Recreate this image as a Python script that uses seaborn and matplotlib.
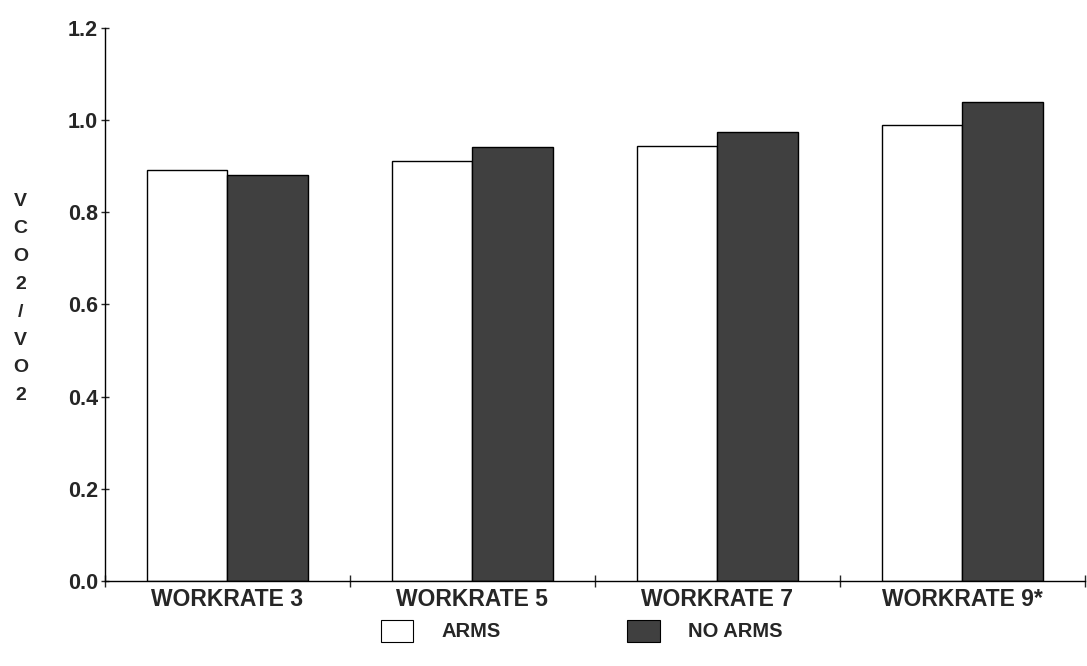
import pandas as pd
import numpy as np
import matplotlib
matplotlib.use('Agg')
import matplotlib.pyplot as plt
import seaborn as sns
from matplotlib.patches import Patch
from matplotlib.ticker import FixedLocator

workrates = ['WORKRATE 3', 'WORKRATE 5', 'WORKRATE 7', 'WORKRATE 9*']
arms = [0.892, 0.912, 0.944, 0.989]
no_arms = [0.882, 0.942, 0.975, 1.040]
conditions = ['ARMS', 'NO ARMS']
y_ticks = [0.0, 0.2, 0.4, 0.6, 0.8, 1.0, 1.2]

df = pd.DataFrame({
    'workrate': workrates * 2,
    'condition': [conditions[0]] * len(arms) + [conditions[1]] * len(no_arms),
    'ratio': arms + no_arms,
})

sns.set_style('ticks')
plt.rcParams['font.family'] = ['Liberation Sans', 'DejaVu Sans']

colores = {'ARMS': 'white', 'NO ARMS': '#404040'}

fig = plt.figure(figsize=(10.87, 6.66), dpi=100)
ax = fig.add_axes([0.0966, 0.1276, 0.9014, 0.8304])

sns.barplot(data=df, x='workrate', y='ratio', hue='condition', order=workrates,
            hue_order=conditions, palette=colores, width=0.66, gap=0,
            edgecolor='black', linewidth=1.0, legend=False, ax=ax)

ax.set_xlim(-0.5, 3.5)
ax.set_ylim(0, 1.2)
ax.set_yticks(y_ticks)
ax.set_yticklabels([f'{v:.1f}' for v in y_ticks], fontsize=15.5, fontweight='bold')
ax.set_xticks(range(len(workrates)))
ax.set_xticklabels(workrates, fontsize=16.5, fontweight='bold')
ax.xaxis.set_minor_locator(FixedLocator(np.arange(-0.5, 3.6, 1.0)))
ax.tick_params(axis='x', which='major', length=0, pad=5)
ax.tick_params(axis='x', which='minor', length=8, direction='inout', width=1)
ax.tick_params(axis='y', length=6, direction='inout', width=1, pad=2)
ax.set_xlabel('')
ax.set_ylabel('')
for s in ['top', 'right']:
    ax.spines[s].set_visible(False)
for s in ['left', 'bottom']:
    ax.spines[s].set_linewidth(1.0)
    ax.spines[s].set_color('black')
ax.spines['bottom'].set_bounds(-0.5, 3.5)

# etiqueta vertical letra por letra
fig.text(0.019, 0.552, 'V\nC\nO\n2\n/\nV\nO\n2', ha='center', va='center',
         fontsize=14, fontweight='bold', linespacing=1.83)

handles = [Patch(facecolor=colores[c], edgecolor='black', linewidth=0.8) for c in conditions]
fig.legend(handles, conditions, loc='center', bbox_to_anchor=(0.535, 0.053), ncol=2,
           frameon=False, prop={'size': 14.5, 'weight': 'bold'}, handlelength=1.6,
           handleheight=1.3, handletextpad=1.4, columnspacing=6.3)

fig.savefig('out.png', dpi=100)
